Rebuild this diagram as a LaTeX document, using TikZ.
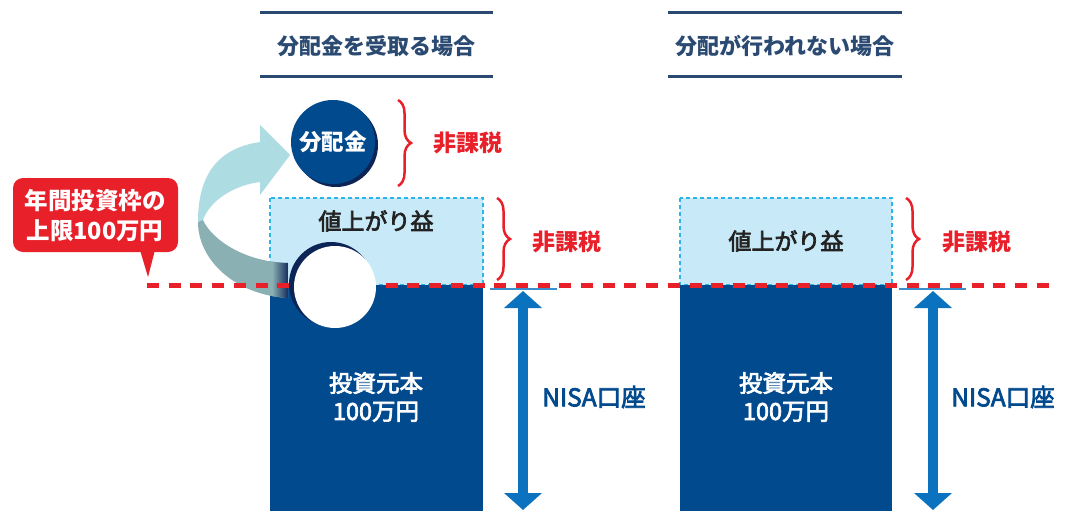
\documentclass[tikz,border=0pt]{standalone}
\usepackage{fontspec}
\setmainfont{Noto Sans CJK JP}
\newfontfamily\jpmed{Noto Sans CJK JP}[FakeBold=3]
\usetikzlibrary{arrows.meta,decorations.pathreplacing}
\definecolor{navy}{HTML}{024A8E}
\definecolor{navydark}{HTML}{0D2456}
\definecolor{hdr}{HTML}{2B4A72}
\definecolor{lightbox}{HTML}{C8E9F8}
\definecolor{cyanline}{HTML}{2BB5E8}
\definecolor{redc}{HTML}{E8202A}
\definecolor{arrowblue}{HTML}{0A72BE}
\definecolor{ribbonlight}{HTML}{AEDCE3}
\definecolor{ribbongray}{HTML}{8BB0B4}
\definecolor{textdark}{HTML}{222222}
\tikzset{
  hdrline/.style={draw=hdr, line width=3},
  hdrtext/.style={text=hdr, font=\fontsize{22}{25}\selectfont\bfseries},
  gainbox/.style={fill=lightbox, draw=cyanline, line width=2, dash pattern=on 4pt off 3pt},
  gaintext/.style={text=textdark, font=\fontsize{23}{26}\jpmed},
  principal/.style={fill=navy},
  whitetext/.style={text=white, font=\fontsize{23.5}{28}\jpmed, align=center},
  divtext/.style={text=white, font=\fontsize{22.5}{27}\selectfont\bfseries},
  taxbrace/.style={draw=redc, line width=2.5, decorate, decoration={brace, amplitude=13pt}},
  taxtext/.style={text=redc, font=\fontsize{23}{26}\selectfont\bfseries},
  limitline/.style={draw=redc, line width=5, dash pattern=on 12pt off 9.7pt},
  nisaarrow/.style={draw=arrowblue, line width=10, {Triangle[length=17pt,width=37pt]}-{Triangle[length=17pt,width=37pt]}},
  nisabar/.style={draw=arrowblue!80, line width=2},
  nisatext/.style={text=navy, font=\fontsize{24.5}{28}\jpmed},
  callouttext/.style={text=white, font=\fontsize{23.5}{30}\selectfont\bfseries, align=center},
}
\begin{document}
\begin{tikzpicture}[x=1pt,y=-1pt]
\useasboundingbox (0,0) rectangle (1070,511);
\fill[white] (0,0) rectangle (1070,511);

% headers
\draw[hdrline] (260,13) -- (493,13);
\draw[hdrline] (260,76) -- (493,76);
\node[hdrtext] (h1) at (376,46) {分配金を受取る場合};
\draw[hdrline] (668,13) -- (902,13);
\draw[hdrline] (668,76) -- (902,76);
\node[hdrtext] (h2) at (785,46) {分配が行われない場合};

% left column
\path[gainbox] (270,198) rectangle (483,285);
\node[gaintext] (g1) at (376,221) {値上がり益};
\fill[principal] (270,285) rectangle (483,511);
\node[whitetext] (p1) at (376,397) {投資元本\\100万円};

% right column
\path[gainbox] (680,198) rectangle (892,285);
\node[gaintext] (g2) at (786,241) {値上がり益};
\fill[principal] (680,285) rectangle (892,511);
\node[whitetext] (p2) at (786,397) {投資元本\\100万円};

% ribbon arrow
\fill[ribbonlight] (260,142) .. controls (220,148) and (198,172) .. (198,222)
  -- (203,220) .. controls (210,200) and (235,185) .. (260,182)
  -- (260,195) -- (290,155) -- (260,125) -- cycle;
\fill[ribbongray] (203,220) .. controls (212,240) and (245,262) .. (288,263)
  -- (288,298) .. controls (235,295) and (198,260) .. (198,222) -- cycle;
\begin{scope}
\clip (203,220) .. controls (212,240) and (245,262) .. (288,263)
  -- (288,298) .. controls (235,295) and (198,260) .. (198,222) -- cycle;
\shade[left color=ribbongray, right color=navydark] (272,250) rectangle (289,300);
\end{scope}

% limit line
\coordinate (limL) at (147,285);
\coordinate (limR) at (1057,285);
\draw[limitline] (limL) -- (limR);

% white hole circle
\fill[navydark] (331,284) circle (42);
\fill[white] (335,287) circle (41);

% dividend circle
\fill[navydark] (336,145) circle (42);
\node[circle, fill=navy, minimum size=84pt, inner sep=0pt, divtext] (div) at (333,142) {分配金};

% braces
\coordinate (b1t) at (398,100); \coordinate (b1b) at (398,186);
\draw[taxbrace] (b1t) -- (b1b);
\node[taxtext] (t1) at (468,143) {非課税};
\coordinate (b2t) at (497,198); \coordinate (b2b) at (497,280);
\draw[taxbrace] (b2t) -- (b2b);
\node[taxtext] (t2) at (567,242) {非課税};
\coordinate (b3t) at (906,198); \coordinate (b3b) at (906,280);
\draw[taxbrace] (b3t) -- (b3b);
\node[taxtext] (t3) at (977,242) {非課税};

% NISA arrows
\coordinate (n1a) at (490,289); \coordinate (n1b) at (557,289);
\draw[nisabar] (n1a) -- (n1b);
\coordinate (n1t) at (523,291); \coordinate (n1d) at (523,510);
\draw[nisaarrow] (n1t) -- (n1d);
\node[nisatext] (nt1) at (594,397) {NISA口座};
\coordinate (n2a) at (899,289); \coordinate (n2b) at (966,289);
\draw[nisabar] (n2a) -- (n2b);
\coordinate (n2t) at (933,291); \coordinate (n2d) at (933,510);
\draw[nisaarrow] (n2t) -- (n2d);
\node[nisatext] (nt2) at (1003,397) {NISA口座};

% callout
\fill[redc, rounded corners=10pt] (13,178) rectangle (178,252);
\fill[redc] (140,250) -- (155,250) -- (148,277) -- cycle;
\node[callouttext] (co) at (95,216) {年間投資枠の\\上限100万円};
\end{tikzpicture}
\end{document}
